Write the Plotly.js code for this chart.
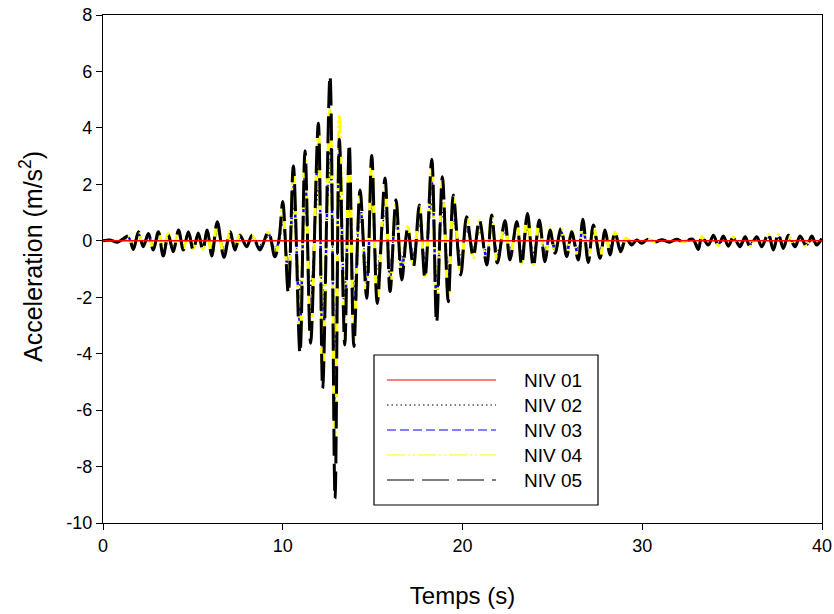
<!DOCTYPE html>
<html>
<head>
<meta charset="utf-8">
<script src="https://cdn.plot.ly/plotly-3.0.1.min.js"></script>
<style>html,body{margin:0;padding:0;background:#fff;}#chart{width:834px;height:614px;}</style>
</head>
<body>
<div id="chart"></div>
<script>
// Time instants (s) of the digitised extrema, shared by NIV 02..05
const time = [
  0, 0.4, 0.8, 1.1, 1.41, 1.69, 1.97, 2.24, 2.52, 2.8,
  3.08, 3.35, 3.63, 3.91, 4.2, 4.47, 4.75, 5.02, 5.3, 5.55,
  5.8, 6.05, 6.36, 6.73, 7.07, 7.34, 7.62, 7.99, 8.3, 8.73,
  9.2, 9.56, 9.8, 10.0, 10.31, 10.59, 10.96, 11.24, 11.55, 11.98,
  12.22, 12.63, 12.91, 13.15, 13.45, 13.7, 13.96, 14.3, 14.67, 14.95,
  15.26, 15.69, 15.97, 16.3, 16.62, 16.95, 17.27, 17.6, 17.91, 18.29,
  18.56, 18.88, 19.21, 19.49, 19.9, 20.23, 20.6, 20.94, 21.35, 21.62,
  21.94, 22.36, 22.64, 23.02, 23.29, 23.61, 23.94, 24.27, 24.59, 24.87,
  25.15, 25.48, 25.8, 26.07, 26.44, 26.69, 27.0, 27.28, 27.65, 27.93,
  28.21, 28.48, 28.8, 29.1, 29.41, 29.69, 29.97, 30.3, 30.7, 31.1,
  31.5, 31.9, 32.3, 32.8, 33.12, 33.31, 33.67, 33.96, 34.23, 34.51,
  34.79, 35.07, 35.44, 35.72, 35.99, 36.37, 36.65, 37.01, 37.29, 37.57,
  37.85, 38.13, 38.5, 38.78, 39.15, 39.43, 39.7, 39.98
];

// NIV 01 (base) – flat
const time01 = [0, 40];
const niv01 = [0, 0];

const niv02 = [
  0, 0.01, -0.02, 0.03, 0.08, -0.14, 0.15, -0.1, 0.12, -0.15,
  0.15, -0.25, 0.1, -0.18, 0.18, -0.15, 0.15, -0.15, 0.13, -0.15,
  0.18, -0.25, 0.3, -0.27, 0.15, -0.15, 0.1, -0.1, 0.1, -0.15,
  0.15, -0.26, 0.05, 0.62, -0.85, 1.2, -1.8, 1.45, -1.65, 1.9,
  -2.4, 2.6, -4.1, 1.65, -1.7, 1.55, -1.7, 0.8, -0.92, 1.35,
  -1.0, 1.0, -0.8, 0.65, -0.62, 0.2, -0.42, 0.58, -0.6, 1.3,
  -1.3, 1.0, -0.97, 0.72, -0.55, 0.38, -0.25, 0.33, -0.39, 0.41,
  -0.36, 0.32, -0.3, 0.3, -0.39, 0.44, -0.41, 0.33, -0.33, 0.17,
  -0.2, 0.2, -0.25, 0.15, -0.3, 0.34, -0.35, 0.25, -0.28, 0.17,
  -0.22, 0.15, -0.18, 0.04, -0.07, 0.02, -0.04, 0.02, -0.02, 0.02,
  -0.02, 0.02, -0.02, 0.03, -0.14, 0.08, -0.07, 0.09, -0.09, 0.08,
  -0.09, 0.06, -0.1, 0.06, -0.09, 0.06, -0.1, 0.12, -0.15, 0.11,
  -0.12, 0.09, -0.1, 0.08, -0.1, 0.08, -0.07, 0.04
];

const niv03 = [
  0, 0.02, -0.03, 0.04, 0.12, -0.22, 0.24, -0.16, 0.2, -0.25,
  0.25, -0.38, 0.18, -0.3, 0.3, -0.25, 0.27, -0.25, 0.22, -0.26,
  0.3, -0.38, 0.45, -0.42, 0.24, -0.24, 0.15, -0.16, 0.15, -0.24,
  0.24, -0.4, 0.06, 0.95, -1.35, 1.9, -2.9, 2.3, -2.6, 3.4,
  -3.8, 3.9, -6.6, 3.5, -2.7, 2.5, -2.7, 1.3, -1.5, 2.2,
  -1.6, 1.6, -1.3, 1.05, -1.0, 0.35, -0.65, 0.9, -0.95, 2.1,
  -2.1, 1.65, -1.55, 1.15, -0.85, 0.6, -0.4, 0.53, -0.62, 0.66,
  -0.57, 0.52, -0.49, 0.5, -0.62, 0.7, -0.66, 0.53, -0.53, 0.28,
  -0.32, 0.32, -0.4, 0.23, -0.49, 0.55, -0.55, 0.4, -0.45, 0.27,
  -0.36, 0.23, -0.28, 0.07, -0.11, 0.03, -0.06, 0.04, -0.03, 0.03,
  -0.03, 0.04, -0.03, 0.04, -0.2, 0.12, -0.11, 0.14, -0.14, 0.12,
  -0.14, 0.1, -0.15, 0.1, -0.14, 0.1, -0.15, 0.19, -0.24, 0.17,
  -0.19, 0.14, -0.15, 0.12, -0.15, 0.12, -0.11, 0.06
];

const niv04 = [
  0, 0.02, -0.04, 0.05, 0.15, -0.28, 0.3, -0.2, 0.24, -0.3,
  0.35, -0.45, 0.25, -0.35, 0.34, -0.3, 0.3, -0.28, 0.25, -0.3,
  0.33, -0.48, 0.55, -0.5, 0.3, -0.3, 0.22, -0.2, 0.18, -0.3,
  0.3, -0.5, 0.08, 1.2, -1.7, 2.4, -3.6, 3.0, -3.3, 3.9,
  -4.7, 4.63, -7.4, 4.4, -3.4, 3.2, -3.5, 1.7, -1.9, 2.8,
  -2.1, 2.0, -1.7, 1.35, -1.3, 0.5, -0.85, 1.2, -1.25, 2.7,
  -2.7, 2.1, -2.0, 1.5, -1.1, 0.8, -0.6, 0.7, -0.8, 0.85,
  -0.75, 0.68, -0.6, 0.6, -0.8, 0.9, -0.85, 0.7, -0.68, 0.4,
  -0.4, 0.45, -0.5, 0.35, -0.6, 0.7, -0.72, 0.52, -0.58, 0.35,
  -0.45, 0.3, -0.35, 0.1, -0.13, 0.04, -0.07, 0.04, -0.04, 0.03,
  -0.04, 0.04, -0.03, 0.05, -0.25, 0.15, -0.14, 0.18, -0.17, 0.15,
  -0.17, 0.13, -0.19, 0.13, -0.17, 0.13, -0.19, 0.23, -0.3, 0.22,
  -0.25, 0.18, -0.19, 0.15, -0.19, 0.15, -0.14, 0.07
];

const niv05 = [
  0, 0.03, -0.05, 0.06, 0.17, -0.31, 0.32, -0.21, 0.26, -0.33,
  0.32, -0.54, 0.2, -0.39, 0.38, -0.33, 0.32, -0.33, 0.28, -0.33,
  0.38, -0.54, 0.67, -0.59, 0.32, -0.33, 0.2, -0.21, 0.2, -0.33,
  0.32, -0.57, 0.1, 1.39, -1.86, 2.65, -3.99, 3.19, -3.63, 4.16,
  -5.23, 5.84, -9.13, 3.6, -3.69, 3.43, -3.75, 1.8, -2.04, 3.02,
  -2.22, 2.22, -1.8, 1.45, -1.39, 0.45, -0.92, 1.27, -1.33, 2.89,
  -2.9, 2.27, -2.16, 1.62, -1.21, 0.85, -0.56, 0.74, -0.86, 0.91,
  -0.79, 0.72, -0.68, 0.68, -0.86, 0.97, -0.92, 0.74, -0.74, 0.38,
  -0.44, 0.44, -0.56, 0.32, -0.68, 0.76, -0.77, 0.56, -0.62, 0.38,
  -0.5, 0.32, -0.39, 0.09, -0.15, 0.03, -0.09, 0.05, -0.05, 0.04,
  -0.05, 0.05, -0.04, 0.06, -0.31, 0.165, -0.15, 0.2, -0.19, 0.165,
  -0.19, 0.14, -0.21, 0.14, -0.19, 0.14, -0.21, 0.26, -0.33, 0.24,
  -0.27, 0.2, -0.21, 0.165, -0.21, 0.165, -0.15, 0.08
];

const seriesNames = ["NIV 01", "NIV 02", "NIV 03", "NIV 04", "NIV 05"];
const xTicks = [0, 10, 20, 30, 40];
const yTicks = [-10, -8, -6, -4, -2, 0, 2, 4, 6, 8];
const xTitle = "Temps (s)";
const yTitle = "Acceleration (m/s<sup>2</sup>)";

const FONT = "Liberation Sans, Arial, sans-serif";

const styles = [
  {color: "#ff0000", dash: "solid", width: 1.5},
  {color: "#000000", dash: "1.5px,3px", width: 1.5},
  {color: "#0000ff", dash: "9px,4px", width: 2.5},
  {color: "#ffff00", dash: "18px,3px,2px,3px,2px,3px", width: 3},
  {color: "#000000", dash: "27px,8px", width: 3}
];

const ys = [niv01, niv02, niv03, niv04, niv05];
const xs = [time01, time, time, time, time];

const order = [1, 2, 3, 4, 0];
const traces = order.map(i => ({
  type: "scatter", mode: "lines", name: seriesNames[i],
  x: xs[i], y: ys[i],
  line: {color: styles[i].color, dash: styles[i].dash, width: styles[i].width,
         shape: i === 0 ? "linear" : "spline", smoothing: 1},
  hoverinfo: "skip", showlegend: false
}));

// Plot-area geometry (pixels) used for the hand-made legend and y title
const L = 103, R = 822, T = 15, B = 523;
const px = x => (x - L) / (R - L);
const py = y => (B - y) / (B - T);

const shapes = [{
  type: "rect", xref: "paper", yref: "paper",
  x0: px(374), x1: px(598), y0: py(355), y1: py(505),
  line: {color: "#000", width: 1.2}, fillcolor: "#fff", layer: "above"
}];
const annotations = [];
const rowY = [380, 405, 430, 455, 480];
seriesNames.forEach((n, i) => {
  shapes.push({
    type: "line", xref: "paper", yref: "paper",
    x0: px(387), x1: px(496), y0: py(rowY[i]), y1: py(rowY[i]),
    line: {color: styles[i].color, dash: styles[i].dash, width: 1.2}, layer: "above"
  });
  annotations.push({
    xref: "paper", yref: "paper", x: px(522), y: py(rowY[i]),
    xanchor: "left", yanchor: "middle", showarrow: false, text: n,
    font: {family: FONT, size: 19, color: "#000"}
  });
});
// y-axis title (rotated), placed as in the reference
annotations.push({
  xref: "paper", yref: "paper", x: px(31), y: py(257),
  xanchor: "center", yanchor: "middle", showarrow: false, textangle: -90,
  text: yTitle, font: {family: FONT, size: 25, color: "#000"}
});

const layout = {
  width: 834, height: 614,
  margin: {l: L, r: 834 - R, t: T, b: 614 - B},
  paper_bgcolor: "#fff", plot_bgcolor: "#fff",
  font: {family: FONT, color: "#000", size: 17},
  showlegend: false,
  xaxis: {
    range: [0, 40], tickvals: xTicks, ticktext: xTicks.map(String),
    ticks: "outside", ticklen: 6, tickcolor: "#000", tickwidth: 1,
    showline: true, linecolor: "#000", linewidth: 1.2, mirror: true,
    showgrid: false, zeroline: false,
    tickfont: {size: 18},
    title: {text: xTitle, font: {size: 24}, standoff: 32}
  },
  yaxis: {
    range: [-10, 8], tickvals: yTicks, ticktext: yTicks.map(String),
    ticks: "outside", ticklen: 6, tickcolor: "#000", tickwidth: 1,
    showline: true, linecolor: "#000", linewidth: 1.2, mirror: true,
    showgrid: false, zeroline: false,
    tickfont: {size: 18}
  },
  shapes: shapes,
  annotations: annotations
};

Plotly.newPlot("chart", traces, layout, {staticPlot: true, displayModeBar: false});
</script>
</body>
</html>
